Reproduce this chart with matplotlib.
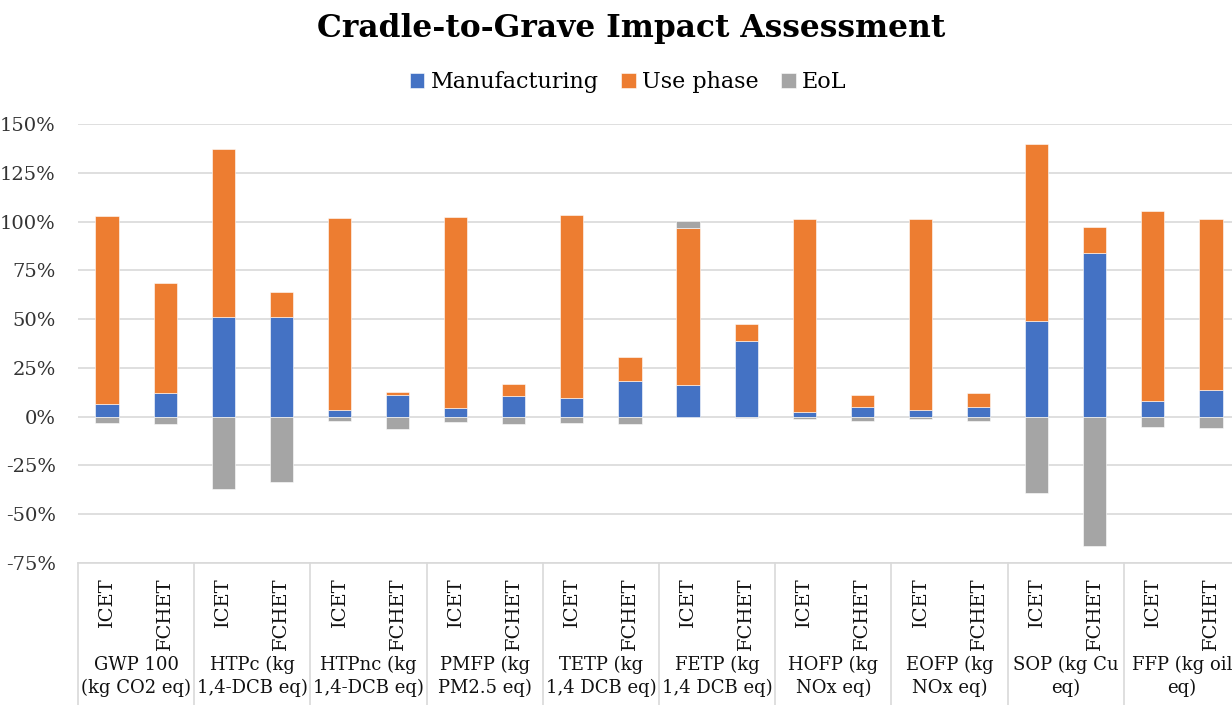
import numpy as np
import matplotlib
matplotlib.use("Agg")
import matplotlib.pyplot as plt
import matplotlib.transforms as mtransforms

plt.rcParams['font.family'] = ['DejaVu Serif']

# Data (percent)
groups = ["GWP 100\n(kg CO2 eq)", "HTPc (kg\n1,4-DCB eq)", "HTPnc (kg\n1,4-DCB eq)",
          "PMFP (kg\nPM2.5 eq)", "TETP (kg\n1,4 DCB eq)", "FETP (kg\n1,4 DCB eq)",
          "HOFP (kg\nNOx eq)", "EOFP (kg\nNOx eq)", "SOP (kg Cu\neq)", "FFP (kg oil\neq)"]
vehicles = ["ICET", "FCHET"]

manufacturing = [6.3, 12.3, 51.0, 51.0, 3.4, 11.0, 4.5, 10.6, 9.6, 18.3,
                 16.1, 38.9, 2.2, 5.1, 3.6, 5.1, 49.0, 84.0, 8.2, 13.7]
use_phase = [96.5, 56.3, 86.4, 13.0, 98.5, 1.6, 97.9, 6.0, 93.7, 12.4,
             80.4, 8.6, 99.0, 5.9, 97.5, 6.9, 90.5, 13.3, 97.0, 87.4]
eol = [-3.2, -3.7, -37.2, -33.6, -2.0, -6.5, -2.9, -3.7, -3.4, -3.7,
       3.7, -0.5, -1.3, -2.2, -1.3, -2.2, -39.2, -66.2, -5.1, -5.6]

series = [("Manufacturing", manufacturing, "#4472C4"),
          ("Use phase", use_phase, "#ED7D31"),
          ("EoL", eol, "#A5A5A5")]

W, H = 1232, 705
fig = plt.figure(figsize=(W / 100, H / 100), dpi=100)
ax = fig.add_axes([78 / W, 1 - 563 / H, (1240 - 78) / W, (563 - 124) / H])

x = np.arange(len(manufacturing))
pos_base = np.zeros(len(x))
neg_base = np.zeros(len(x))
for name, vals, color in series:
    vals = np.array(vals)
    bottoms = np.where(vals >= 0, pos_base, neg_base)
    ax.bar(x, vals, width=0.4, bottom=bottoms, color=color, label=name,
           edgecolor="white", linewidth=0.4, zorder=3)
    pos_base = pos_base + np.where(vals >= 0, vals, 0)
    neg_base = neg_base + np.where(vals < 0, vals, 0)

ax.set_xlim(-0.5, len(x) - 0.5)
ax.set_ylim(-75, 150)
ax.set_yticks(np.arange(-75, 151, 25))
ax.set_yticklabels([f"{v}%" for v in range(-75, 151, 25)], fontsize=14, color="#333333")
ax.tick_params(axis="y", length=0, pad=16)
ax.set_xticks([])
ax.grid(axis="y", color="#D9D9D9", linewidth=1.2, zorder=0)
for s in ["left", "right", "top"]:
    ax.spines[s].set_visible(False)
ax.spines["bottom"].set_color("#D9D9D9")
ax.spines["bottom"].set_linewidth(1.2)

# two-level category axis
trans = mtransforms.blended_transform_factory(ax.transData, ax.transAxes)
for i in x:
    ax.text(i, -0.032, vehicles[i % 2], rotation=90, ha="center", va="top",
            fontsize=14, transform=trans, color="#111111")
for g, label in enumerate(groups):
    ax.text(2 * g + 0.5, -0.212, label, ha="center", va="top", fontsize=13,
            transform=trans, linespacing=1.3, color="#111111")
for b in np.arange(-0.5, len(x), 2):
    ax.plot([b, b], [0, -0.4], transform=trans, color="#D9D9D9",
            linewidth=1.2, clip_on=False)

fig.legend(loc="center", bbox_to_anchor=(0.51, 1 - 82 / H), ncol=3, frameon=False,
           fontsize=16, handlelength=0.65, handleheight=0.65, handletextpad=0.3,
           columnspacing=1.0)
fig.text(0.512, 1 - 28 / H, "Cradle-to-Grave Impact Assessment", ha="center",
         va="center", fontsize=22.5, fontweight="bold")

fig.savefig("out.png", dpi=100)
